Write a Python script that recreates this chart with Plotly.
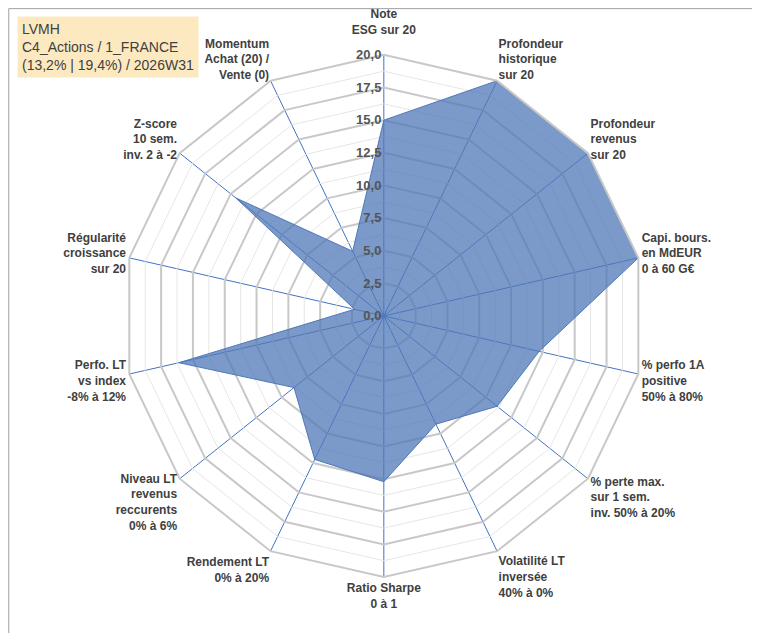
import plotly.graph_objects as go

categories = ["Note<br>ESG sur 20", "Profondeur<br>historique<br>sur 20", "Profondeur<br>revenus<br>sur 20",
              "Capi. bours.<br>en MdEUR<br>0 à 60 G€", "% perfo 1A<br>positive<br>50% à 80%",
              "% perte max.<br>sur 1 sem.<br>inv. 50% à 20%", "Volatilité LT<br>inversée<br>40% à 0%",
              "Ratio Sharpe<br>0 à 1", "Rendement LT<br>0% à 20%", "Niveau LT<br>revenus<br>reccurents<br>0% à 6%",
              "Perfo. LT<br>vs index<br>-8% à 12%", "Régularité<br>croissance<br>sur 20",
              "Z-score<br>10 sem.<br>inv. 2 à -2", "Momentum<br>Achat (20) /<br>Vente (0)"]
values = [15, 20, 20, 20, 12.2, 11.1, 9.2, 12.7, 12.2, 8.8, 16.1, 2.3, 14.5, 5.5]
major_ticks = [0, 2.5, 5, 7.5, 10, 12.5, 15, 17.5, 20]
major_labels = ["<b>0,0</b>", "<b>2,5</b>", "<b>5,0</b>", "<b>7,5</b>", "<b>10,0</b>", "<b>12,5</b>",
                "<b>15,0</b>", "<b>17,5</b>", "<b>20,0</b>"]
minor_rings = [1.25, 3.75, 6.25, 8.75, 11.25, 13.75, 16.25, 18.75]

bold_cats = ["<b>" + c.replace("<br>", "</b><br><b>") + "</b>" for c in categories]
bold_cats[0] = bold_cats[0] + "<br><span style='font-size:6px'> </span>"

fig = go.Figure()
for r in minor_rings:
    fig.add_trace(go.Scatterpolar(r=[r]*15, theta=bold_cats + [bold_cats[0]], mode="lines",
                                  line=dict(color="#e6e6e6", width=1), hoverinfo="skip", showlegend=False))
fig.add_trace(go.Scatterpolar(r=values + [values[0]], theta=bold_cats + [bold_cats[0]], mode="lines",
                              fill="toself", fillcolor="rgba(79,120,184,0.75)",
                              line=dict(color="#4f78b8", width=1), showlegend=False))

fig.update_layout(
    width=760, height=633, margin=dict(l=0, r=0, t=0, b=0),
    paper_bgcolor="white",
    font=dict(family="Liberation Sans, Arial", size=12, color="#404040"),
    polar=dict(
        domain=dict(x=[0.151, 0.838], y=[0.101, 0.926]),
        gridshape="linear", bgcolor="white",
        radialaxis=dict(range=[0, 20], tickvals=major_ticks, ticktext=major_labels, angle=90, tickangle=90,
                        side="counterclockwise", showline=False, ticks="",
                        gridcolor="#c8c8c8", gridwidth=2,
                        tickfont=dict(size=13, color="#555555")),
        angularaxis=dict(direction="clockwise", rotation=90, gridcolor="#4472c4", gridwidth=1,
                         linecolor="#c8c8c8", linewidth=2, ticks="",
                         tickfont=dict(size=12, color="#404040")),
    ),
    shapes=[dict(type="rect", xref="paper", yref="paper", x0=0.001, y0=0.001, x1=0.999, y1=0.999,
                 line=dict(color="#a0a0a0", width=1))],
    annotations=[dict(text="LVMH<br>C4_Actions / 1_FRANCE<br>(13,2% | 19,4%) / 2026W31",
                      xref="paper", yref="paper", x=0.012, y=0.988, xanchor="left", yanchor="top",
                      showarrow=False, align="left", bgcolor="#fde9c0", borderpad=4,
                      font=dict(size=14, color="#404040", family="Liberation Sans Narrow, Liberation Sans"))],
)
fig.write_html("out.html")
